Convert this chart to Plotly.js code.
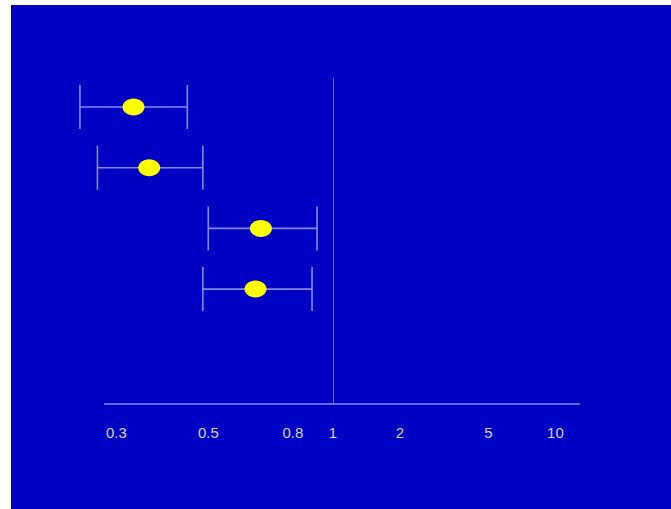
<!DOCTYPE html>
<html>
<head>
<meta charset="utf-8">
<script src="https://cdn.plot.ly/plotly-3.0.1.min.js"></script>
<style>
  html, body { margin: 0; padding: 0; background: #ffffff; width: 671px; height: 509px; overflow: hidden; }
  #chart { position: absolute; left: 11px; top: 5px; width: 660px; height: 504px; }
</style>
</head>
<body>
<div id="chart"></div>
<script>
// ---- data ----
const studies   = ['Study 1', 'Study 2', 'Study 3', 'Study 4'];
const estimate  = [0.33, 0.36, 0.67, 0.65];
const lowerCI   = [0.245, 0.27, 0.50, 0.485];
const upperCI   = [0.445, 0.485, 0.915, 0.89];
const leftTickVals  = [0.3, 0.5, 0.8];
const leftTickText  = ['0.3', '0.5', '0.8'];
const rightTickVals = [1, 2, 5, 10];
const rightTickText = ['1', '2', '5', '10'];
const noEffect = 1;

const BG = '#0000c4';
const LINE = '#8888ee';
const TXT = '#d4d4ff';

const trace = {
  type: 'scatter',
  mode: 'markers',
  x: estimate,
  y: studies,
  xaxis: 'x',
  yaxis: 'y',
  marker: { size: 1, color: 'rgba(0,0,0,0)' },
  error_x: {
    type: 'data',
    symmetric: false,
    array: upperCI.map((u, i) => u - estimate[i]),
    arrayminus: lowerCI.map((l, i) => estimate[i] - l),
    color: LINE,
    thickness: 1.6,
    width: 22
  },
  hoverinfo: 'skip',
  showlegend: false
};

// dummy trace to activate the second x axis
const trace2 = {
  type: 'scatter', mode: 'markers', x: [noEffect], y: [studies[0]],
  xaxis: 'x2', yaxis: 'y', marker: { size: 1, color: 'rgba(0,0,0,0)' },
  hoverinfo: 'skip', showlegend: false
};

// ellipse (rx 11, ry 8.5) as a bezier path, in pixels relative to the anchor
const ELLIPSE = 'M -11,0 C -11,-4.69 -6.08,-8.5 0,-8.5 C 6.08,-8.5 11,-4.69 11,0 ' +
                'C 11,4.69 6.08,8.5 0,8.5 C -6.08,8.5 -11,4.69 -11,0 Z';

const shapes = [];
// horizontal axis line
shapes.push({ type: 'line', xref: 'paper', yref: 'y domain', x0: 0.1409, x1: 0.8621, y0: 0, y1: 0,
  line: { color: LINE, width: 1.5 }, layer: 'below' });
// vertical line at no effect
shapes.push({ type: 'line', xref: 'x2', yref: 'y domain', x0: noEffect, x1: noEffect, y0: 0, y1: 0.817,
  line: { color: LINE, width: 1.5 }, layer: 'below' });
// yellow elliptical point estimates
estimate.forEach((v, i) => {
  shapes.push({ type: 'path', xref: 'x', yref: 'y',
    xsizemode: 'pixel', ysizemode: 'pixel', xanchor: v, yanchor: studies[i],
    path: ELLIPSE,
    fillcolor: '#ffff00', line: { width: 0 }, layer: 'above' });
});

const tickFont = { family: 'Liberation Sans, Arial, sans-serif', size: 15, color: TXT };

const layout = {
  width: 660, height: 504,
  margin: { l: 0, r: 0, t: 0, b: 0, pad: 0 },
  paper_bgcolor: BG, plot_bgcolor: BG,
  showlegend: false,
  xaxis: {
    type: 'log', domain: [0.07424, 0.48788], range: [-0.659, 0],
    anchor: 'y', showgrid: false, zeroline: false, showline: false,
    tickmode: 'array', tickvals: leftTickVals, ticktext: leftTickText,
    ticks: 'outside', ticklen: 15, tickcolor: 'rgba(0,0,0,0)', tickfont: tickFont
  },
  xaxis2: {
    type: 'log', domain: [0.48788, 0.86212], range: [0, 1.1106],
    anchor: 'y', showgrid: false, zeroline: false, showline: false,
    tickmode: 'array', tickvals: rightTickVals, ticktext: rightTickText,
    ticks: 'outside', ticklen: 15, tickcolor: 'rgba(0,0,0,0)', tickfont: tickFont
  },
  yaxis: {
    type: 'category', domain: [0.2083, 1], range: [4.893, -1.680],
    showgrid: false, zeroline: false, showline: false, showticklabels: false, ticks: ''
  },
  shapes: shapes
};

Plotly.newPlot('chart', [trace, trace2], layout, { staticPlot: true, displayModeBar: false });
</script>
</body>
</html>
